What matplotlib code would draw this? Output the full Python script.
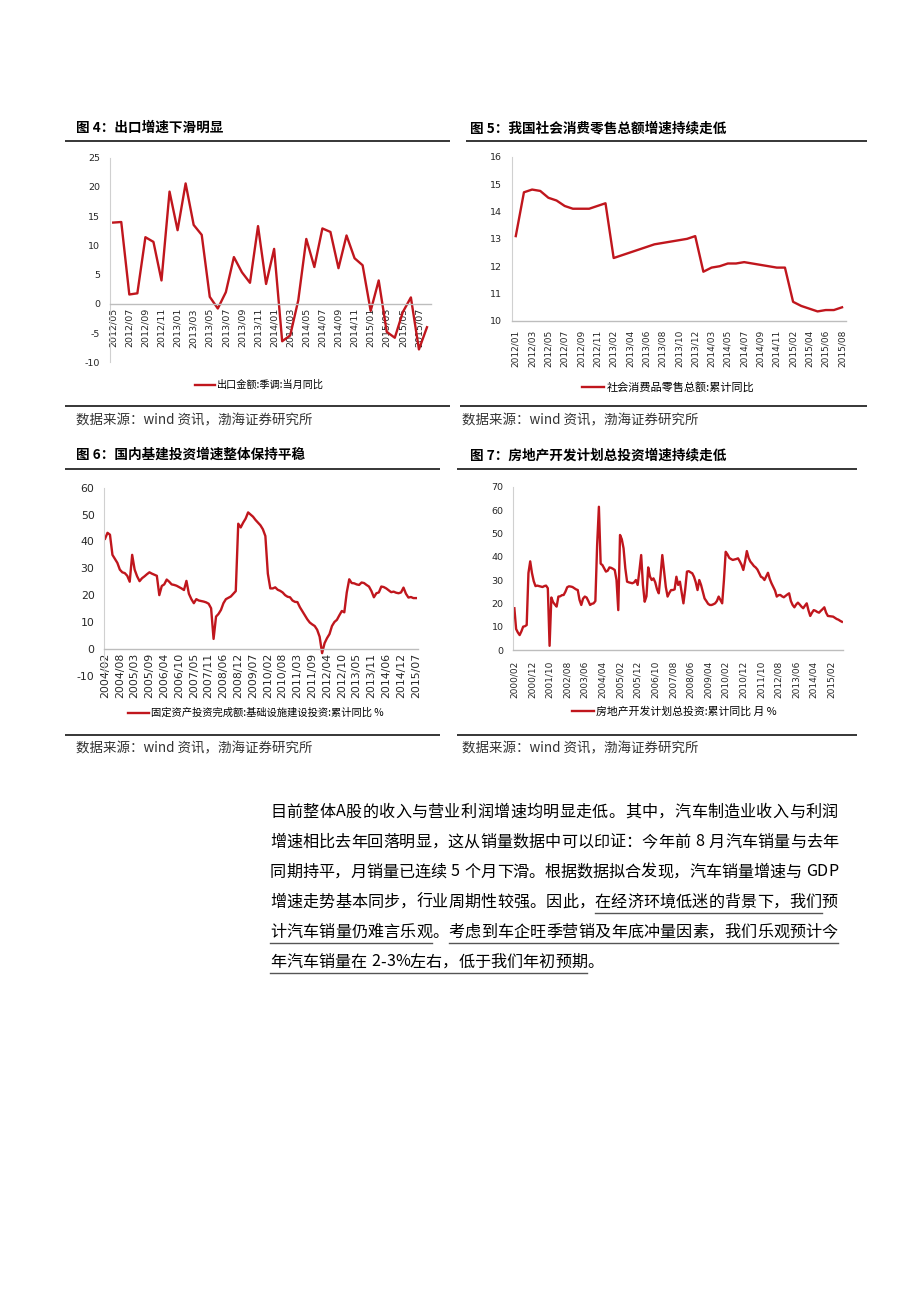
#!/usr/bin/env python3
# Report page: four macro line charts (fig 4-7) plus a paragraph of commentary

import matplotlib
matplotlib.use("Agg")
import matplotlib.pyplot as plt

plt.rcParams['font.family'] = ['Noto Sans CJK SC', 'DejaVu Sans']
plt.rcParams['axes.unicode_minus'] = False

W, H = 920, 1302
RED = '#c0161d'
TXT = '#262626'

# -------------------- data --------------------
# fig 4: export value, seasonally adjusted, yoy (2012/05 .. 2015/08)
exp_ticks = ['2012/05', '2012/07', '2012/09', '2012/11', '2013/01', '2013/03', '2013/05',
             '2013/07', '2013/09', '2013/11', '2014/01', '2014/03', '2014/05', '2014/07',
             '2014/09', '2014/11', '2015/01', '2015/03', '2015/05', '2015/07']
exp_vals = [13.9, 14.0, 1.6, 1.8, 11.4, 10.6, 4.0, 19.2, 12.6, 20.6, 13.5, 11.8,
            1.2, -0.8, 2.0, 8.0, 5.4, 3.6, 13.3, 3.4, 9.4, -6.4, -5.4, 0.6,
            11.1, 6.3, 12.9, 12.3, 6.1, 11.7, 7.8, 6.6, -1.2, 4.0, -4.8, -5.8,
            -1.4, 1.1, -7.8, -4.0]

# fig 5: retail sales, cumulative yoy (2012/01 .. 2015/08, Jan merged after 2012)
ret_ticks = ['2012/01', '2012/03', '2012/05', '2012/07', '2012/09', '2012/11', '2013/02',
             '2013/04', '2013/06', '2013/08', '2013/10', '2013/12', '2014/03', '2014/05',
             '2014/07', '2014/09', '2014/11', '2015/02', '2015/04', '2015/06', '2015/08']
ret_vals = [13.1, 14.7, 14.8, 14.75, 14.5, 14.4, 14.2, 14.1, 14.1, 14.1, 14.2, 14.3,
            12.3, 12.4, 12.5, 12.6, 12.7, 12.8, 12.85, 12.9, 12.95, 13.0, 13.1,
            11.8, 11.95, 12.0, 12.1, 12.1, 12.15, 12.1, 12.05, 12.0, 11.95, 11.95,
            10.7, 10.55, 10.45, 10.35, 10.4, 10.4, 10.5]

# fig 6: infrastructure FAI, cumulative yoy (2004/02 .. 2015/07, no January)
inf_ticks = ['2004/02', '2004/08', '2005/03', '2005/09', '2006/04', '2006/10', '2007/05',
             '2007/11', '2008/06', '2008/12', '2009/07', '2010/02', '2010/08', '2011/03',
             '2011/09', '2012/04', '2012/10', '2013/05', '2013/11', '2014/06', '2014/12',
             '2015/07']
inf_vals = [41.0, 43.2, 42.5, 35.0, 33.5, 32.0, 29.5, 28.5, 28.2, 27.2, 25.0, 35.0,
            29.5, 27.0, 25.2, 26.3, 27.0, 27.8, 28.5, 28.0, 27.6, 27.2, 20.0, 23.4,
            24.0, 25.8, 25.0, 24.0, 23.8, 23.5, 23.0, 22.5, 21.9, 25.3, 20.5, 18.5,
            17.0, 18.5, 18.0, 17.8, 17.6, 17.3, 16.8, 15.1, 3.7, 12.0, 13.0, 14.5,
            17.0, 18.5, 19.0, 19.5, 20.5, 21.5, 46.6, 45.2, 47.0, 48.5, 50.8, 50.0,
            49.2, 48.0, 47.0, 46.0, 44.5, 42.0, 28.0, 22.5, 22.5, 22.9, 22.0, 21.6,
            21.0, 20.0, 19.4, 19.2, 18.0, 17.5, 17.4, 15.5, 14.0, 12.5, 11.0, 9.8,
            9.1, 8.5, 7.1, 4.5, -1.6, 2.1, 4.0, 5.5, 8.5, 10.0, 10.8, 12.5,
            14.1, 13.6, 21.0, 25.9, 24.5, 24.4, 24.0, 23.8, 24.7, 24.5, 23.8, 23.2,
            21.5, 19.2, 20.7, 21.0, 23.2, 23.0, 22.5, 21.8, 21.1, 21.3, 20.9, 20.7,
            21.0, 22.8, 20.5, 19.1, 19.3, 18.9, 18.9]

# fig 7: real estate planned investment, cumulative yoy (2000/02 .. 2015/08)
re_ticks = ['2000/02', '2000/12', '2001/10', '2002/08', '2003/06', '2004/04', '2005/02',
            '2005/12', '2006/10', '2007/08', '2008/06', '2009/04', '2010/02', '2010/12',
            '2011/10', '2012/08', '2013/06', '2014/04', '2015/02']
re_vals = [17.9, 9.0, 7.5, 6.4, 8.0, 10.0, 10.2, 10.7, 33.0, 38.0, 33.0, 29.5,
           27.4, 27.6, 27.4, 27.2, 27.0, 27.4, 27.6, 26.5, 1.8, 22.5, 20.5, 19.5,
           18.6, 22.9, 23.0, 23.5, 23.6, 25.0, 26.9, 27.3, 27.2, 27.0, 26.5, 26.0,
           25.7, 21.5, 19.3, 22.0, 22.9, 22.5, 21.0, 19.3, 19.8, 20.0, 21.0, 45.0,
           61.4, 37.0, 36.4, 35.0, 33.6, 34.0, 35.4, 35.2, 34.8, 34.3, 30.0, 17.1,
           49.3, 47.5, 43.6, 35.0, 29.3, 29.0, 28.8, 28.6, 29.0, 30.0, 27.9, 34.0,
           40.7, 28.0, 20.7, 23.0, 35.4, 31.5, 30.0, 30.7, 29.0, 26.0, 24.3, 32.0,
           40.7, 34.0, 27.0, 22.9, 24.5, 25.7, 25.7, 26.0, 31.4, 27.9, 29.3, 24.5,
           20.0, 26.0, 33.6, 33.8, 33.3, 32.9, 31.4, 29.0, 25.7, 30.0, 27.9, 25.0,
           22.1, 21.0, 19.8, 19.3, 19.3, 19.6, 20.0, 21.0, 22.9, 21.4, 20.0, 30.0,
           42.1, 41.0, 39.5, 39.0, 38.6, 38.8, 39.0, 39.3, 38.0, 36.5, 34.3, 38.0,
           42.4, 39.5, 37.9, 37.0, 36.0, 35.4, 34.5, 33.0, 31.4, 31.0, 30.0, 31.5,
           33.1, 30.5, 28.6, 27.0, 25.5, 22.9, 23.5, 23.6, 23.0, 22.6, 23.2, 23.8,
           24.3, 21.0, 19.3, 18.3, 19.5, 20.3, 19.5, 18.6, 17.9, 19.0, 20.0, 17.0,
           14.6, 16.0, 17.1, 16.8, 16.3, 16.0, 16.8, 17.5, 18.3, 16.0, 14.6, 14.5,
           14.4, 14.3, 13.8, 13.3, 13.0, 12.5, 12.1]

para_lines = [
    "目前整体A股的收入与营业利润增速均明显走低。其中，汽车制造业收入与利润",
    "增速相比去年回落明显，这从销量数据中可以印证：今年前 8 月汽车销量与去年",
    "同期持平，月销量已连续 5 个月下滑。根据数据拟合发现，汽车销量增速与 GDP",
    "增速走势基本同步，行业周期性较强。因此，在经济环境低迷的背景下，我们预",
    "计汽车销量仍难言乐观。考虑到车企旺季营销及年底冲量因素，我们乐观预计今",
    "年汽车销量在 2-3%左右，低于我们年初预期。",
]
# (line, first char, last char) underlined
underlines = [(3, 20, 33), (4, 0, 9), (4, 11, 34), (5, 0, 21)]
# ----------------------------------------------


def rect_px(left, top, right, bottom):
    return [left / W, 1 - bottom / H, (right - left) / W, (bottom - top) / H]


fig = plt.figure(figsize=(W / 100, H / 100), dpi=100)
fig.patch.set_facecolor('white')
ov = fig.add_axes([0, 0, 1, 1])
ov.set_xlim(0, W); ov.set_ylim(H, 0); ov.axis('off')
ov.patch.set_alpha(0)


def line_chart(rect, vals, ticks, step, ylim, yticks, xlim, label, leg_xy, leg_fs,
               xfs, yfs, xpad, zero_axis):
    ax = fig.add_axes(rect)
    ax.patch.set_alpha(0)
    for s in ('top', 'right'):
        ax.spines[s].set_visible(False)
    ax.spines['left'].set_color('#d0d0d0'); ax.spines['left'].set_linewidth(0.8)
    ax.spines['bottom'].set_color('#bdbdbd'); ax.spines['bottom'].set_linewidth(1.0)
    if zero_axis:
        # category axis crosses at 0, labels hang below that line
        ax.spines['bottom'].set_position(('data', 0))
    ax.plot(range(len(vals)), vals, color=RED, lw=1.7, label=label, solid_joinstyle='round')
    ax.set_xlim(*xlim); ax.set_ylim(*ylim)
    ax.set_yticks(yticks)
    ax.set_xticks(range(0, len(vals), step)[:len(ticks)])
    ax.set_xticklabels(ticks, rotation=90, fontsize=xfs, color=TXT, family=['DejaVu Sans'])
    ax.tick_params(axis='y', length=0, pad=7, labelsize=yfs, labelcolor=TXT)
    ax.tick_params(axis='x', length=0, pad=xpad)
    for t in ax.get_yticklabels():
        t.set_family(['DejaVu Sans'])
    ax.legend(loc='center left', bbox_to_anchor=leg_xy, bbox_transform=ov.transData,
              frameon=False, fontsize=leg_fs, handlelength=2.0, handletextpad=0.2,
              borderpad=0, borderaxespad=0)
    return ax


line_chart(rect_px(110, 157.7, 431, 362.3), exp_vals, exp_ticks, 2, (-10, 25),
           range(-10, 26, 5), (-0.4, 39.5), '出口金额:季调:当月同比', (195, 385), 7.3,
           6.8, 6.8, 3, True)
line_chart(rect_px(511.7, 156.7, 845.7, 321), ret_vals, ret_ticks, 2, (10, 16),
           range(10, 17), (-0.5, 40.45), '社会消费品零售总额:累计同比', (582, 387), 8,
           6.5, 6.8, 6, False)
line_chart(rect_px(104.3, 487.7, 418.3, 675.7), inf_vals, inf_ticks, 6, (-10, 60),
           range(-10, 61, 10), (-0.3, 127), '固定资产投资完成额:基础设施建设投资:累计同比 %',
           (128, 713), 7.4, 7.8, 7.8, 3, True)
line_chart(rect_px(513.3, 486.7, 843, 650), re_vals, re_ticks, 10, (0, 70),
           range(0, 71, 10), (-0.6, 186.6), '房地产开发计划总投资:累计同比 月 %',
           (572, 712), 7.8, 6.5, 6.8, 8, False)

# titles, rules and sources
titles = [(76, 128, '图 4：出口增速下滑明显'), (470, 128, '图 5：我国社会消费零售总额增速持续走低'),
          (76, 455, '图 6：国内基建投资增速整体保持平稳'), (470, 455, '图 7：房地产开发计划总投资增速持续走低')]
for x, y, s in titles:
    ov.text(x, y, s, fontsize=9.8, fontweight='bold', va='center', ha='left', color='black')

rules = [(65, 450, 141), (65, 450, 406), (466, 867, 141), (460, 867, 406),
         (65, 440, 469), (65, 440, 735), (457, 857, 469), (457, 857, 735)]
for x0, x1, y in rules:
    ov.plot([x0, x1], [y, y], color='black', lw=1.1, solid_capstyle='butt')

src = '数据来源：wind 资讯，渤海证券研究所'
for x, y in [(76, 420), (462, 420), (76, 748), (462, 748)]:
    ov.text(x, y, src, fontsize=9.7, va='center', ha='left', color='#333333')

# paragraph, justified char by char
r = fig.canvas.get_renderer()
FS = 11.6
X0, X1 = 270, 838
for li, s in enumerate(para_lines):
    y = 812 + 30 * li
    arts = [ov.text(0, y, ch, fontsize=FS, va='center', ha='left', color='black') for ch in s]
    widths = []
    for ch, a in zip(s, arts):
        widths.append(FS * 0.3 * 100 / 72 if ch == ' ' else a.get_window_extent(r).width)
    last = li == len(para_lines) - 1
    gap = 0 if last else (X1 - X0 - sum(widths)) / (len(s) - 1)
    x = X0
    spans = []
    for a, w in zip(arts, widths):
        a.set_x(x)
        spans.append((x, x + w))
        x += w + gap
    for ul, a0, a1 in underlines:
        if ul == li:
            ov.plot([spans[a0][0], spans[a1][1]], [y + 11, y + 11], color='#555555', lw=1.0)

fig.savefig('out.png', dpi=100, facecolor='white')
